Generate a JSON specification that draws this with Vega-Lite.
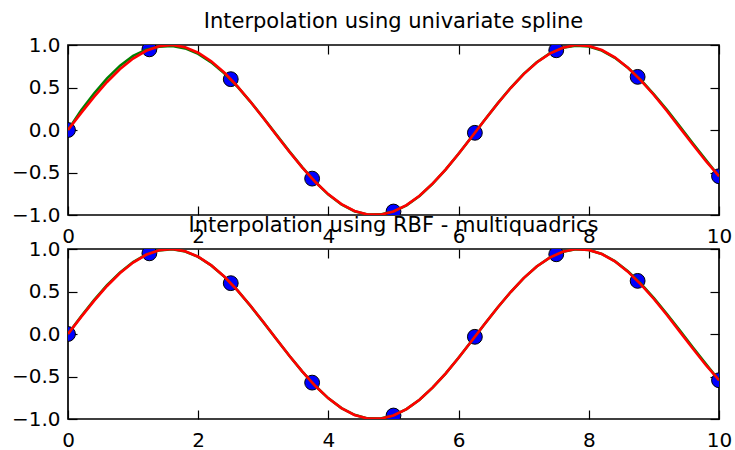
{
  "$schema": "https://vega.github.io/schema/vega-lite/v6.json",
  "padding": {"left": 10, "top": 10, "right": 0, "bottom": 0},
  "bounds": "flush",
  "spacing": 34,
  "config": {
    "font": "DejaVu Sans",
    "view": {"stroke": "#000000", "strokeWidth": 1.7},
    "axis": {"grid": false, "domain": false, "tickColor": "#000000", "tickWidth": 1.2, "tickSize": -9, "labelFontSize": 20, "labelColor": "#000000", "labelFont": "DejaVu Sans", "labelFlush": false, "labelOverlap": false},
    "axisX": {"labelPadding": 20},
    "axisY": {"labelPadding": 17},
    "title": {"fontSize": 21, "fontWeight": "normal", "color": "#000000", "anchor": "middle", "frame": "group", "baseline": "alphabetic", "offset": 3, "font": "DejaVu Sans"}
  },
  "datasets": {
    "points": [
      {"x": 0, "y": 0}, {"x": 1.25, "y": 0.949}, {"x": 2.5, "y": 0.598}, {"x": 3.75, "y": -0.572}, {"x": 5, "y": -0.959},
      {"x": 6.25, "y": -0.033}, {"x": 7.5, "y": 0.938}, {"x": 8.75, "y": 0.625}, {"x": 10, "y": -0.544}
    ],
    "curves": [
      {"x": 0.0, "sin": 0, "spline": 0, "rbf": 0},
      {"x": 0.2, "sin": 0.199, "spline": 0.228, "rbf": 0.206},
      {"x": 0.4, "sin": 0.389, "spline": 0.43, "rbf": 0.398},
      {"x": 0.6, "sin": 0.565, "spline": 0.608, "rbf": 0.574},
      {"x": 0.8, "sin": 0.717, "spline": 0.757, "rbf": 0.725},
      {"x": 1.0, "sin": 0.841, "spline": 0.872, "rbf": 0.847},
      {"x": 1.2, "sin": 0.932, "spline": 0.945, "rbf": 0.934},
      {"x": 1.4, "sin": 0.985, "spline": 0.98, "rbf": 0.984},
      {"x": 1.6, "sin": 1.0, "spline": 0.988, "rbf": 0.997},
      {"x": 1.8, "sin": 0.974, "spline": 0.96, "rbf": 0.971},
      {"x": 2.0, "sin": 0.909, "spline": 0.895, "rbf": 0.907},
      {"x": 2.2, "sin": 0.808, "spline": 0.796, "rbf": 0.807},
      {"x": 2.4, "sin": 0.676, "spline": 0.668, "rbf": 0.675},
      {"x": 2.6, "sin": 0.516, "spline": 0.512, "rbf": 0.515},
      {"x": 2.8, "sin": 0.335, "spline": 0.335, "rbf": 0.334},
      {"x": 3.0, "sin": 0.141, "spline": 0.144, "rbf": 0.14},
      {"x": 3.2, "sin": -0.058, "spline": -0.054, "rbf": -0.059},
      {"x": 3.4, "sin": -0.256, "spline": -0.252, "rbf": -0.256},
      {"x": 3.6, "sin": -0.443, "spline": -0.44, "rbf": -0.443},
      {"x": 3.8, "sin": -0.612, "spline": -0.612, "rbf": -0.612},
      {"x": 4.0, "sin": -0.757, "spline": -0.76, "rbf": -0.757},
      {"x": 4.2, "sin": -0.872, "spline": -0.876, "rbf": -0.871},
      {"x": 4.4, "sin": -0.952, "spline": -0.955, "rbf": -0.951},
      {"x": 4.6, "sin": -0.994, "spline": -0.994, "rbf": -0.993},
      {"x": 4.8, "sin": -0.996, "spline": -0.993, "rbf": -0.995},
      {"x": 5.0, "sin": -0.959, "spline": -0.959, "rbf": -0.959},
      {"x": 5.2, "sin": -0.884, "spline": -0.886, "rbf": -0.884},
      {"x": 5.4, "sin": -0.773, "spline": -0.776, "rbf": -0.773},
      {"x": 5.6, "sin": -0.631, "spline": -0.633, "rbf": -0.631},
      {"x": 5.8, "sin": -0.465, "spline": -0.466, "rbf": -0.465},
      {"x": 6.0, "sin": -0.279, "spline": -0.279, "rbf": -0.279},
      {"x": 6.2, "sin": -0.083, "spline": -0.083, "rbf": -0.083},
      {"x": 6.4, "sin": 0.117, "spline": 0.117, "rbf": 0.117},
      {"x": 6.6, "sin": 0.312, "spline": 0.313, "rbf": 0.312},
      {"x": 6.8, "sin": 0.494, "spline": 0.497, "rbf": 0.494},
      {"x": 7.0, "sin": 0.657, "spline": 0.661, "rbf": 0.657},
      {"x": 7.2, "sin": 0.794, "spline": 0.798, "rbf": 0.794},
      {"x": 7.4, "sin": 0.899, "spline": 0.901, "rbf": 0.899},
      {"x": 7.6, "sin": 0.968, "spline": 0.967, "rbf": 0.968},
      {"x": 7.8, "sin": 0.999, "spline": 0.993, "rbf": 0.998},
      {"x": 8.0, "sin": 0.989, "spline": 0.982, "rbf": 0.989},
      {"x": 8.2, "sin": 0.941, "spline": 0.935, "rbf": 0.942},
      {"x": 8.4, "sin": 0.855, "spline": 0.85, "rbf": 0.857},
      {"x": 8.6, "sin": 0.734, "spline": 0.733, "rbf": 0.738},
      {"x": 8.8, "sin": 0.585, "spline": 0.588, "rbf": 0.591},
      {"x": 9.0, "sin": 0.412, "spline": 0.42, "rbf": 0.421},
      {"x": 9.2, "sin": 0.223, "spline": 0.236, "rbf": 0.236},
      {"x": 9.4, "sin": 0.025, "spline": 0.041, "rbf": 0.04},
      {"x": 9.6, "sin": -0.174, "spline": -0.158, "rbf": -0.158},
      {"x": 9.8, "sin": -0.367, "spline": -0.354, "rbf": -0.354},
      {"x": 10.0, "sin": -0.544, "spline": -0.544, "rbf": -0.544}
    ]
  },
  "vconcat": [
    {
      "width": 651,
      "height": 170,
      "title": {"text": "Interpolation using univariate spline"},
      "layer": [
        {
          "data": {"name": "points"},
          "mark": {"type": "point", "shape": "circle", "filled": true, "size": 220, "color": "#0000ff", "stroke": "#000000", "strokeWidth": 1, "opacity": 1, "clip": true},
          "encoding": {
            "x": {"field": "x", "type": "quantitative", "scale": {"domain": [0, 10], "nice": false, "zero": false}, "axis": null},
            "y": {"field": "y", "type": "quantitative", "scale": {"domain": [-1, 1], "nice": false, "zero": false}, "axis": null}
          }
        },
        {
          "data": {"name": "curves"},
          "mark": {"type": "line", "color": "#008000", "strokeWidth": 2.6, "clip": true},
          "encoding": {
            "x": {"field": "x", "type": "quantitative", "axis": {"orient": "bottom", "values": [0, 2, 4, 6, 8, 10], "format": "d", "title": null}},
            "y": {"field": "spline", "type": "quantitative", "axis": {"orient": "left", "values": [-1, -0.5, 0, 0.5, 1], "format": ".1f", "title": null}}
          }
        },
        {
          "data": {"name": "curves"},
          "mark": {"type": "line", "color": "#ff0000", "strokeWidth": 2.6, "clip": true},
          "encoding": {
            "x": {"field": "x", "type": "quantitative", "axis": {"orient": "top", "values": [0, 2, 4, 6, 8, 10], "labels": false, "title": null}},
            "y": {"field": "sin", "type": "quantitative", "axis": {"orient": "right", "values": [-1, -0.5, 0, 0.5, 1], "labels": false, "title": null}}
          }
        }
      ]
    },
    {
      "width": 651,
      "height": 170,
      "title": {"text": "Interpolation using RBF - multiquadrics"},
      "layer": [
        {
          "data": {"name": "points"},
          "mark": {"type": "point", "shape": "circle", "filled": true, "size": 220, "color": "#0000ff", "stroke": "#000000", "strokeWidth": 1, "opacity": 1, "clip": true},
          "encoding": {
            "x": {"field": "x", "type": "quantitative", "scale": {"domain": [0, 10], "nice": false, "zero": false}, "axis": null},
            "y": {"field": "y", "type": "quantitative", "scale": {"domain": [-1, 1], "nice": false, "zero": false}, "axis": null}
          }
        },
        {
          "data": {"name": "curves"},
          "mark": {"type": "line", "color": "#008000", "strokeWidth": 2.6, "clip": true},
          "encoding": {
            "x": {"field": "x", "type": "quantitative", "axis": {"orient": "bottom", "values": [0, 2, 4, 6, 8, 10], "format": "d", "title": null}},
            "y": {"field": "rbf", "type": "quantitative", "axis": {"orient": "left", "values": [-1, -0.5, 0, 0.5, 1], "format": ".1f", "title": null}}
          }
        },
        {
          "data": {"name": "curves"},
          "mark": {"type": "line", "color": "#ff0000", "strokeWidth": 2.6, "clip": true},
          "encoding": {
            "x": {"field": "x", "type": "quantitative", "axis": {"orient": "top", "values": [0, 2, 4, 6, 8, 10], "labels": false, "title": null}},
            "y": {"field": "sin", "type": "quantitative", "axis": {"orient": "right", "values": [-1, -0.5, 0, 0.5, 1], "labels": false, "title": null}}
          }
        }
      ]
    }
  ]
}
